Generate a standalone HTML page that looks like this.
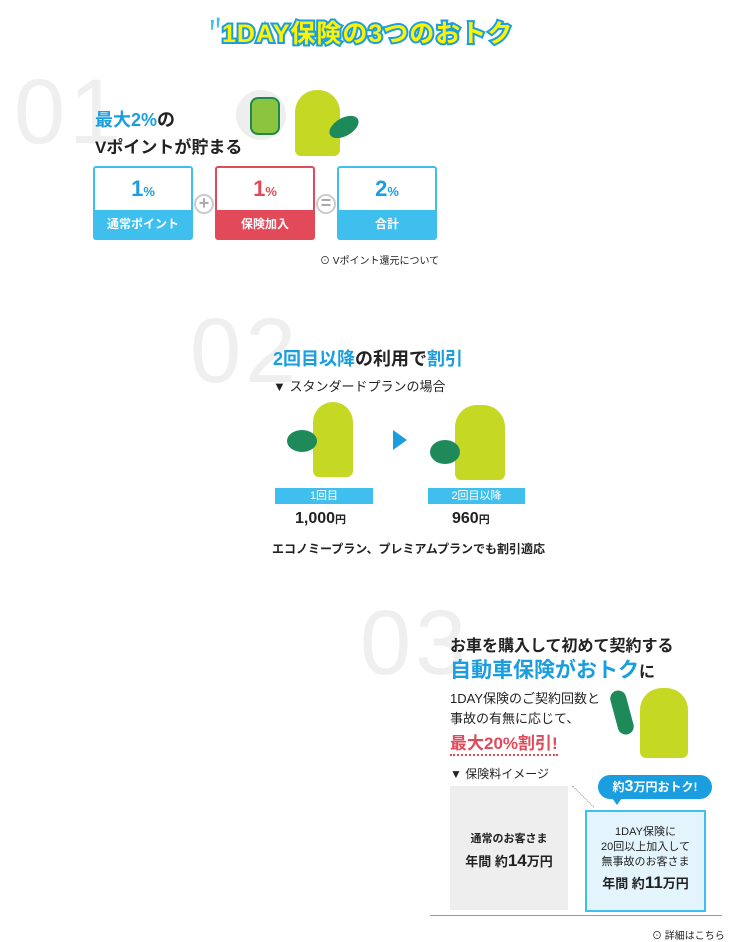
<!DOCTYPE html>
<html><head><meta charset="utf-8"><style>
*{margin:0;padding:0;box-sizing:border-box}
body{width:731px;height:941px;background:#fff;position:relative;overflow:hidden;font-family:"Liberation Sans","Noto Sans CJK JP",sans-serif;color:#222;font-weight:bold}
.a{position:absolute;white-space:nowrap}
.num{position:absolute;font-family:"Liberation Sans",sans-serif;font-weight:300;color:#efefef;font-size:92px;letter-spacing:4px;line-height:1}
.box{position:absolute;width:100px;height:74px;border:2px solid #3fbfee;border-radius:3px;background:#fff;text-align:center}
.box .v{font-size:22px;color:#1a9ee0;margin-top:8px}
.box .v small{font-size:13px}
.box .l{position:absolute;left:0;right:0;bottom:0;height:28px;background:#3fbfee;color:#fff;font-size:12px;line-height:28px}
.op{position:absolute;width:20px;height:20px;border-radius:50%;background:#fff;border:2px solid #ccc;color:#aaa;font-size:18px;line-height:15px;text-align:center}
.lbl{position:absolute;height:16px;background:#3fbfee;color:#fff;font-size:11px;text-align:center;line-height:16px;font-weight:normal}
</style></head><body>
<div class="a" style="left:205px;top:8px;color:#3fbfee;font-size:20px;transform:rotate(-20deg)">〃</div>
<div class="a" style="left:222px;top:14px;font-size:25px;color:#fff200;-webkit-text-stroke:4px #1a9ee0;paint-order:stroke fill;letter-spacing:1px">1DAY保険の3つのおトク</div>

<div class="num" style="left:14px;top:66px">01</div>
<div class="a" style="left:95px;top:106px;font-size:18px"><span style="color:#1a9ee0">最大2%</span>の</div>
<div class="a" style="left:95px;top:133px;font-size:17px">Vポイントが貯まる</div>
<div class="a" style="left:236px;top:90px;width:50px;height:50px;border-radius:50%;background:#eee"></div>
<div class="a" style="left:250px;top:97px;width:30px;height:38px;border-radius:8px;background:#8bc53f;border:2px solid #1e8a4a"></div>
<div class="a" style="left:295px;top:90px;width:45px;height:66px;border-radius:22px 22px 6px 6px;background:#c5d924"></div>
<div class="a" style="left:328px;top:118px;width:32px;height:18px;border-radius:50%;background:#1e8a5a;transform:rotate(-30deg)"></div>

<div class="box" style="left:93px;top:166px"><div class="v">1<small>%</small></div><div class="l">通常ポイント</div></div>
<div class="op" style="left:194px;top:194px">+</div>
<div class="box" style="left:215px;top:166px;border-color:#e24a5a"><div class="v" style="color:#e24a5a">1<small>%</small></div><div class="l" style="background:#e24a5a">保険加入</div></div>
<div class="op" style="left:316px;top:194px">=</div>
<div class="box" style="left:337px;top:166px"><div class="v">2<small>%</small></div><div class="l">合計</div></div>
<div class="a" style="left:320px;top:252px;font-size:10px;font-weight:normal">⊙ Vポイント還元について</div>

<div class="num" style="left:190px;top:305px">02</div>
<div class="a" style="left:273px;top:345px;font-size:18px"><span style="color:#1a9ee0">2回目以降</span>の利用で<span style="color:#1a9ee0">割引</span></div>
<div class="a" style="left:273px;top:376px;font-size:13px;font-weight:normal">▼ スタンダードプランの場合</div>
<div class="a" style="left:313px;top:402px;width:40px;height:75px;border-radius:20px 20px 6px 6px;background:#c5d924"></div>
<div class="a" style="left:287px;top:430px;width:30px;height:22px;border-radius:50%;background:#1e8a5a"></div>
<div class="a" style="left:393px;top:430px;width:0;height:0;border-left:14px solid #1a9ee0;border-top:10px solid transparent;border-bottom:10px solid transparent"></div>
<div class="a" style="left:455px;top:405px;width:50px;height:75px;border-radius:22px 22px 6px 6px;background:#c5d924"></div>
<div class="a" style="left:430px;top:440px;width:30px;height:24px;border-radius:50%;background:#1e8a5a"></div>
<div class="lbl" style="left:275px;top:488px;width:98px">1回目</div>
<div class="lbl" style="left:428px;top:488px;width:97px">2回目以降</div>
<div class="a" style="left:295px;top:510px;font-size:16px">1,000<small style="font-size:11px">円</small></div>
<div class="a" style="left:452px;top:510px;font-size:16px">960<small style="font-size:11px">円</small></div>
<div class="a" style="left:272px;top:540px;font-size:12px">エコノミープラン、プレミアムプランでも割引適応</div>

<div class="num" style="left:360px;top:597px">03</div>
<div class="a" style="left:450px;top:632px;font-size:16px">お車を購入して初めて契約する</div>
<div class="a" style="left:450px;top:654px;font-size:21px;color:#1a9ee0">自動車保険がおトク<span style="color:#222;font-size:16px">に</span></div>
<div class="a" style="left:450px;top:689px;font-size:13px;line-height:20px;font-weight:normal">1DAY保険のご契約回数と<br>事故の有無に応じて、</div>
<div class="a" style="left:450px;top:729px;font-size:17px;color:#e24a5a;border-bottom:2px dotted #e24a5a">最大20%割引!</div>
<div class="a" style="left:640px;top:688px;width:48px;height:70px;border-radius:22px 22px 6px 6px;background:#c5d924"></div>
<div class="a" style="left:614px;top:690px;width:16px;height:45px;border-radius:8px;background:#1e8a5a;transform:rotate(-15deg)"></div>
<div class="a" style="left:450px;top:765px;font-size:12px;font-weight:normal">▼ 保険料イメージ</div>
<div class="a" style="left:450px;top:786px;width:118px;height:124px;background:#eee;text-align:center;padding-top:42px;font-size:11px;line-height:22px">通常のお客さま<br><span style="font-size:13px">年間 約<span style="font-size:17px">14</span>万円</span></div>
<div class="a" style="left:572px;top:786px;width:1px;height:30px;border-left:1px dotted #999;transform:rotate(-45deg);transform-origin:top"></div>
<div class="a" style="left:598px;top:775px;width:114px;height:24px;border-radius:12px;background:#1a9ee0;color:#fff;font-size:12px;text-align:center;line-height:24px">約<span style="font-size:16px">3</span>万円おトク!</div>
<div class="a" style="left:612px;top:798px;border-left:5px solid transparent;border-right:5px solid transparent;border-top:7px solid #1a9ee0"></div>
<div class="a" style="left:585px;top:810px;width:121px;height:102px;background:#e3f4fc;border:2px solid #3fbfee;text-align:center;padding-top:13px;font-size:11px;line-height:15px;font-weight:normal">1DAY保険に<br>20回以上加入して<br>無事故のお客さま<br><b style="font-size:13px;line-height:26px">年間 約<span style="font-size:17px">11</span>万円</b></div>
<div class="a" style="left:430px;top:915px;width:292px;height:1px;background:#999"></div>
<div class="a" style="left:652px;top:927px;font-size:10px;font-weight:normal">⊙ 詳細はこちら</div>
</body></html>
